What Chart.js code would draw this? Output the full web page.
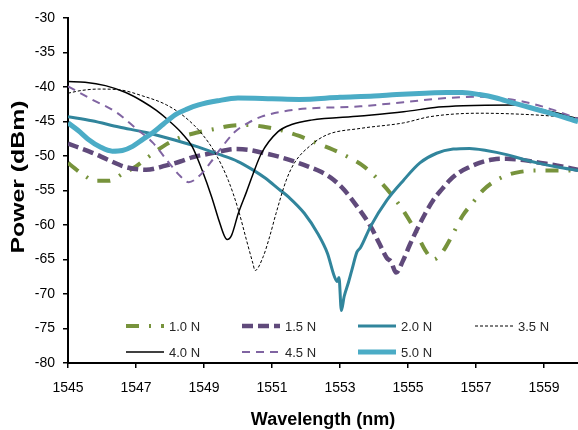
<!DOCTYPE html>
<html>
<head>
<meta charset="utf-8">
<script src="https://cdn.jsdelivr.net/npm/chart.js@4"></script>
<style>
  html, body { margin: 0; padding: 0; background: #fff; }
  #wrap { width: 578px; height: 430px; }
</style>
</head>
<body>
<div id="wrap"><canvas id="c" width="578" height="430"></canvas></div>
<script>
// ---- data ----
const seriesNames = ["1.0 N", "1.5 N", "2.0 N", "3.5 N", "4.0 N", "4.5 N", "5.0 N"];
const xTickValues = [1545, 1547, 1549, 1551, 1553, 1555, 1557, 1559];
const yTickValues = [-30, -35, -40, -45, -50, -55, -60, -65, -70, -75, -80];

const wl_10 = [1545, 1545.2, 1545.5, 1545.8, 1546.2, 1546.6, 1547, 1547.4, 1547.8, 1548.3, 1548.8, 1549.3, 1549.8, 1550.3, 1550.8, 1551.3, 1551.8, 1552.3, 1552.8, 1553.3, 1553.7, 1554.1, 1554.5, 1554.9, 1555.2, 1555.5, 1555.75, 1556.0, 1556.3, 1556.6, 1556.9, 1557.2, 1557.5, 1557.9, 1558.3, 1558.8, 1559.3, 1560];
const pw_10 = [-51.0, -51.8, -52.9, -53.6, -53.6, -52.6, -51.5, -50.0, -48.6, -47.3, -46.6, -46.1, -45.6, -45.5, -45.8, -46.3, -47.1, -48.1, -49.1, -50.3, -51.5, -53.3, -55.5, -58.2, -60.7, -63.6, -65.0, -64.0, -61.5, -58.7, -56.8, -55.0, -53.8, -52.8, -52.3, -52.1, -52.1, -52.1];

const wl_15 = [1545, 1545.7, 1546.2, 1546.7, 1547.3, 1547.87, 1548.3, 1548.65, 1549.33, 1549.9, 1550.3, 1550.69, 1551.2, 1551.66, 1552.05, 1552.44, 1552.8, 1553.12, 1553.5, 1553.9, 1554.15, 1554.38, 1554.5, 1554.65, 1554.85, 1555.05, 1555.26, 1555.5, 1555.74, 1556.0, 1556.23, 1556.5, 1556.81, 1557.1, 1557.5, 1557.9, 1558.4, 1558.9, 1559.4, 1560];
const pw_15 = [-48.2, -49.5, -50.6, -51.6, -52.0, -51.4, -50.8, -50.2, -49.5, -49.0, -49.1, -49.5, -50.1, -50.8, -51.5, -52.3, -53.4, -54.9, -57.3, -60.2, -62.6, -64.8, -65.3, -66.9, -65.2, -62.9, -60.7, -58.4, -56.4, -54.8, -53.5, -52.4, -51.6, -51.0, -50.5, -50.4, -50.6, -51.0, -51.4, -52.0];

const wl_20 = [1545, 1545.7, 1546.5, 1547.3, 1548, 1548.7, 1549.4, 1550, 1550.4, 1550.8, 1551.2, 1551.5, 1551.95, 1552.34, 1552.63, 1552.83, 1552.92, 1552.97, 1553.04, 1553.12, 1553.25, 1553.35, 1553.5, 1553.6, 1553.9, 1554.38, 1554.87, 1555.35, 1555.84, 1556.33, 1556.81, 1557.3, 1557.9, 1558.4, 1558.9, 1559.4, 1560];
const pw_20 = [-44.3, -44.9, -45.8, -46.6, -47.5, -48.5, -49.7, -50.8, -51.9, -53.2, -54.8, -56.0, -58.3, -61.2, -64.1, -67.4, -68.2, -67.6, -72.4, -70.4, -68.3, -66.5, -63.9, -63.3, -60.2, -56.4, -53.5, -51.0, -49.6, -49.0, -48.9, -49.2, -49.8, -50.5, -51.1, -51.6, -52.1];

const wl_35 = [1545, 1545.4, 1545.9, 1546.5, 1547.2, 1547.9, 1548.45, 1548.94, 1549.32, 1549.72, 1550.01, 1550.25, 1550.44, 1550.5, 1550.74, 1550.93, 1551.12, 1551.42, 1551.66, 1552.15, 1552.63, 1553.6, 1554.87, 1555.65, 1557.1, 1558.56, 1560];
const pw_35 = [-40.9, -40.5, -40.3, -40.4, -41.3, -42.6, -44.4, -46.8, -49.5, -53.6, -57.8, -62.2, -65.6, -66.6, -64.6, -61.7, -58.3, -53.5, -51.0, -48.4, -46.9, -46.0, -45.2, -44.3, -43.8, -44.0, -44.5];

const wl_40 = [1545, 1545.5, 1546.1, 1546.7, 1547.2, 1547.6, 1547.97, 1548.35, 1548.65, 1548.94, 1549.23, 1549.45, 1549.6, 1549.68, 1549.81, 1550.01, 1550.25, 1550.45, 1550.69, 1551.17, 1551.6, 1552.15, 1553.6, 1554.87, 1555.9, 1556.62, 1558.08, 1559.24, 1560];
const pw_40 = [-39.2, -39.3, -39.8, -40.8, -42.1, -43.4, -44.9, -46.7, -48.6, -52.0, -56.0, -59.5, -61.6, -62.1, -61.5, -58.3, -55.2, -52.5, -49.6, -46.5, -45.4, -44.8, -44.2, -43.6, -42.9, -42.7, -42.6, -43.6, -44.6];

const wl_45 = [1545, 1545.7, 1546.4, 1547.0, 1547.5, 1547.97, 1548.3, 1548.55, 1548.9, 1549.2, 1549.45, 1549.91, 1550.3, 1550.69, 1551.66, 1553.6, 1554.87, 1556.13, 1557.1, 1558.37, 1559.2, 1560];
const pw_45 = [-39.9, -41.8, -43.6, -46.0, -48.1, -51.0, -52.9, -53.8, -52.7, -50.9, -49.2, -46.5, -45.2, -44.3, -43.3, -42.8, -42.2, -41.6, -41.4, -42.1, -43.2, -44.6];

const wl_50 = [1545, 1545.3, 1545.6, 1545.95, 1546.3, 1546.6, 1546.9, 1547.2, 1547.5, 1547.8, 1548.16, 1548.5, 1548.84, 1549.4, 1550.0, 1551.0, 1551.8, 1553.0, 1554.0, 1554.67, 1555.5, 1556.13, 1556.6, 1557.1, 1557.6, 1558.08, 1559.05, 1560];
const pw_50 = [-45.2, -46.3, -47.6, -48.7, -49.3, -49.2, -48.6, -47.6, -46.6, -45.4, -44.0, -43.2, -42.6, -42.0, -41.6, -41.7, -41.8, -41.5, -41.3, -41.1, -40.9, -40.8, -40.8, -41.1, -41.6, -42.3, -43.6, -45.0];

// ---- styles ----
const styles = [
  { color: "#77933C", width: 4,   dash: [13, 10, 2, 10] },
  { color: "#604A7B", width: 4.5, dash: [11, 5] },
  { color: "#31859C", width: 3,   dash: [] },
  { color: "#000000", width: 1,   dash: [3, 2] },
  { color: "#000000", width: 1.5, dash: [] },
  { color: "#8064A2", width: 2,   dash: [8, 6] },
  { color: "#4BACC6", width: 5,   dash: [] }
];
const xs = [wl_10, wl_15, wl_20, wl_35, wl_40, wl_45, wl_50];
const ys = [pw_10, pw_15, pw_20, pw_35, pw_40, pw_45, pw_50];

const datasets = seriesNames.map((name, i) => ({
  label: name,
  data: xs[i].map((x, k) => ({ x: x, y: ys[i][k] })),
  borderColor: styles[i].color,
  backgroundColor: styles[i].color,
  borderWidth: styles[i].width,
  borderDash: styles[i].dash,
  pointRadius: 0,
  fill: false,
  cubicInterpolationMode: "monotone",
  order: seriesNames.length - i
}));

const FONT = "'Liberation Sans', Arial, sans-serif";

const customDraw = {
  id: "customDraw",
  afterDraw(chart) {
    const ctx = chart.ctx;
    const ca = chart.chartArea;
    ctx.save();
    // axis titles
    ctx.fillStyle = "#000";
    ctx.font = "bold 18px " + FONT;
    ctx.textAlign = "center";
    ctx.textBaseline = "middle";
    ctx.fillText("Wavelength (nm)", (ca.left + ca.right) / 2, 420);
    ctx.save();
    ctx.translate(19, 177);
    ctx.rotate(-Math.PI / 2);
    ctx.scale(1.38, 1);
    ctx.fillText("Power (dBm)", 0, 0);
    ctx.restore();

    // legend inside plot
    const colX = [126, 242, 358, 475];
    const rowY = [326, 352];
    const lineLen = 38;
    ctx.font = "13px " + FONT;
    ctx.textAlign = "left";
    ctx.textBaseline = "middle";
    chart.data.datasets.forEach((ds, i) => {
      const c = i % 4, r = Math.floor(i / 4);
      const x0 = colX[c], y0 = rowY[r];
      ctx.beginPath();
      ctx.strokeStyle = ds.borderColor;
      ctx.lineWidth = ds.borderWidth;
      ctx.setLineDash(ds.borderDash || []);
      ctx.lineCap = "butt";
      ctx.moveTo(x0, y0);
      ctx.lineTo(x0 + lineLen, y0);
      ctx.stroke();
      ctx.setLineDash([]);
      ctx.fillStyle = "#262626";
      ctx.fillText(ds.label, x0 + lineLen + 5, y0 + 1);
    });
    ctx.restore();
  }
};

new Chart(document.getElementById("c"), {
  type: "line",
  data: { datasets: datasets },
  options: {
    responsive: false,
    animation: false,
    devicePixelRatio: 1,
    layout: { padding: { top: 18, right: 0, left: 0, bottom: 0 } },
    plugins: { legend: { display: false }, tooltip: { enabled: false } },
    scales: {
      x: {
        type: "linear",
        min: 1545,
        max: 1560,
        afterBuildTicks(axis) { axis.ticks = xTickValues.map(v => ({ value: v })); },
        afterFit(scale) { scale.height = 67; },
        ticks: {
          callback: v => String(v),
          color: "#000",
          font: { family: FONT, size: 14 },
          padding: 12,
          maxRotation: 0,
          autoSkip: false
        },
        grid: { display: true, drawOnChartArea: false, drawTicks: true, tickLength: 5, color: "#000", lineWidth: 1.5 },
        border: { display: true, color: "#000", width: 2 }
      },
      y: {
        type: "linear",
        min: -80,
        max: -30,
        afterBuildTicks(axis) { axis.ticks = yTickValues.map(v => ({ value: v })); },
        afterFit(scale) { scale.width = 68; },
        ticks: {
          callback: v => String(v),
          color: "#000",
          font: { family: FONT, size: 14 },
          padding: 8,
          autoSkip: false
        },
        grid: { display: true, drawOnChartArea: false, drawTicks: true, tickLength: 5, color: "#000", lineWidth: 1.5 },
        border: { display: true, color: "#000", width: 2 }
      }
    }
  },
  plugins: [customDraw]
});
</script>
</body>
</html>
